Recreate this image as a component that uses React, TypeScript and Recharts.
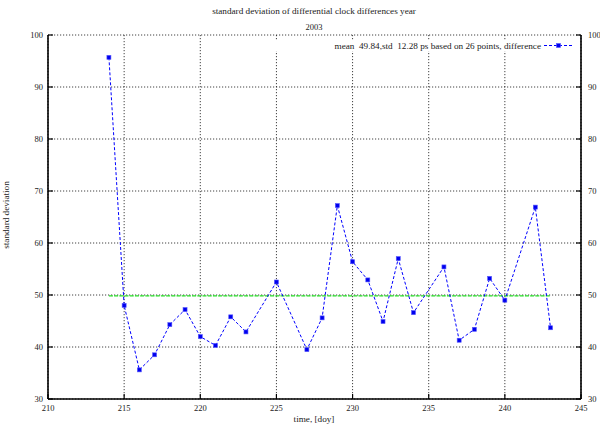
import React from 'react';
import { LineChart, Line, XAxis, YAxis, CartesianGrid } from 'recharts';

// Day-of-year of each measurement
const days = [214, 215, 216, 217, 218, 219, 220, 221, 222, 223, 225, 227, 228, 229, 230, 231, 232, 233, 234, 236, 237, 238, 239, 240, 242, 243];
// Standard deviation of the differential clock differences, ps
const stdDev = [95.7, 48.0, 35.6, 38.5, 44.3, 47.2, 42.0, 40.3, 45.8, 42.9, 52.5, 39.5, 45.6, 67.2, 56.4, 52.9, 44.9, 57.0, 46.6, 55.4, 41.3, 43.4, 53.2, 49.0, 66.9, 43.7];
const meanValue = 49.84;
const stdValue = 12.28;
const meanSpan = [214, 243];

const xTicks = [210, 215, 220, 225, 230, 235, 240, 245];
const yTicks = [30, 40, 50, 60, 70, 80, 90, 100];

const titleText = 'standard deviation of differential clock differences year';
const subtitleText = '2003';
const xLabel = 'time, [doy]';
const yLabel = 'standard deviation';

const rows = days.map((d, i) => ({ day: d, std: stdDev[i] }));
const meanRows = meanSpan.map((d) => ({ day: d, mean: meanValue }));

const FONT = '"Liberation Serif", "DejaVu Serif", serif';
const FS = 8.5;
const TEXT_FS = 9.2;
const TICK_LEN = 5;

const BottomTick = (props: any) => {
  const { x, y, payload } = props;
  return (
    <g>
      <line x1={x} y1={y} x2={x} y2={y - TICK_LEN} stroke="#000" strokeWidth={1.2} />
      <text x={x} y={y + 12} textAnchor="middle" fontFamily={FONT} fontSize={FS} fill="#222">
        {payload.value}
      </text>
    </g>
  );
};

const TopTick = (props: any) => {
  const { x, y } = props;
  return <line x1={x} y1={y} x2={x} y2={y + TICK_LEN} stroke="#000" strokeWidth={1.2} />;
};

const LeftTick = (props: any) => {
  const { x, y, payload } = props;
  return (
    <g>
      <line x1={x} y1={y} x2={x + TICK_LEN} y2={y} stroke="#000" strokeWidth={1.2} />
      <text x={x - 5} y={y + 3} textAnchor="end" fontFamily={FONT} fontSize={FS} fill="#222">
        {payload.value}
      </text>
    </g>
  );
};

const RightTick = (props: any) => {
  const { x, y, payload } = props;
  return (
    <g>
      <line x1={x} y1={y} x2={x - TICK_LEN} y2={y} stroke="#000" strokeWidth={1.2} />
      <text x={x + 7} y={y + 3} textAnchor="start" fontFamily={FONT} fontSize={FS} fill="#222">
        {payload.value}
      </text>
    </g>
  );
};

const SquareDot = (props: any) => {
  const { cx, cy, index } = props;
  if (cx == null || cy == null) return <g key={index} />;
  return (
    <rect key={index} x={cx - 2} y={cy - 2} width={4} height={4} fill="#0000ee" stroke="#5555ff" strokeWidth={0.6} />
  );
};

export default function App() {
  return (
    <div style={{ position: 'absolute', left: 0, top: 0, width: 600, height: 428, background: '#fff' }}>
      <LineChart
        width={600}
        height={428}
        data={rows}
        margin={{ top: 35, right: 0, bottom: 0, left: 0 }}
      >
        <CartesianGrid stroke="#111" strokeDasharray="1.2 1.8" strokeWidth={0.8} />
        <XAxis
          dataKey="day"
          type="number"
          domain={[210, 245]}
          ticks={xTicks}
          allowDataOverflow
          height={29}
          tickSize={0}
          tickMargin={0}
          tickLine={false}
          axisLine={{ stroke: '#000', strokeWidth: 1.6 }}
          tick={<BottomTick />}
          interval={0}
        />
        <XAxis
          xAxisId="top"
          orientation="top"
          dataKey="day"
          type="number"
          domain={[210, 245]}
          ticks={xTicks}
          allowDataOverflow
          height={0}
          tickSize={0}
          tickMargin={0}
          tickLine={false}
          axisLine={{ stroke: '#000', strokeWidth: 1.6 }}
          tick={<TopTick />}
          interval={0}
        />
        <YAxis
          type="number"
          domain={[30, 100]}
          ticks={yTicks}
          allowDataOverflow
          width={48}
          tickSize={0}
          tickMargin={0}
          tickLine={false}
          axisLine={{ stroke: '#000', strokeWidth: 1.6 }}
          tick={<LeftTick />}
          interval={0}
        />
        <YAxis
          yAxisId="right"
          orientation="right"
          type="number"
          domain={[30, 100]}
          ticks={yTicks}
          allowDataOverflow
          width={19}
          tickSize={0}
          tickMargin={0}
          tickLine={false}
          axisLine={{ stroke: '#000', strokeWidth: 1.6 }}
          tick={<RightTick />}
          interval={0}
        />
        <Line
          data={meanRows}
          dataKey="mean"
          type="linear"
          stroke="#22e022"
          strokeWidth={1.4}
          strokeDasharray="4 1.2"
          dot={false}
          activeDot={false}
          isAnimationActive={false}
        />
        <Line
          dataKey="std"
          type="linear"
          stroke="#0000ff"
          strokeWidth={1}
          strokeDasharray="3 2"
          dot={<SquareDot />}
          activeDot={false}
          isAnimationActive={false}
        />
      </LineChart>
      <svg
        width={600}
        height={428}
        style={{ position: 'absolute', left: 0, top: 0, pointerEvents: 'none' }}
        fontFamily={FONT}
        fontSize={TEXT_FS}
        fill="#222"
      >
        <text x={314} y={14} textAnchor="middle">{titleText}</text>
        <text x={314} y={30} textAnchor="middle" fontSize={FS}>{subtitleText}</text>
        <text x={314} y={422} textAnchor="middle">{xLabel}</text>
        <text x={8.5} y={215} textAnchor="middle" transform="rotate(-90 8.5 215)">{yLabel}</text>
        <rect x={270} y={40.5} width={307} height={10.5} fill="#fff" />
        <text x={541} y={48.5} textAnchor="end" xmlSpace="preserve">
          {`mean  ${meanValue.toFixed(2)},std  ${stdValue.toFixed(2)} ps based on ${days.length} points, difference`}
        </text>
        <line x1={544} y1={45.5} x2={573} y2={45.5} stroke="#0000ff" strokeWidth={1} strokeDasharray="3 2" />
        <rect x={556.5} y={43.5} width={4} height={4} fill="#0000ee" stroke="#5555ff" strokeWidth={0.6} />
      </svg>
    </div>
  );
}
